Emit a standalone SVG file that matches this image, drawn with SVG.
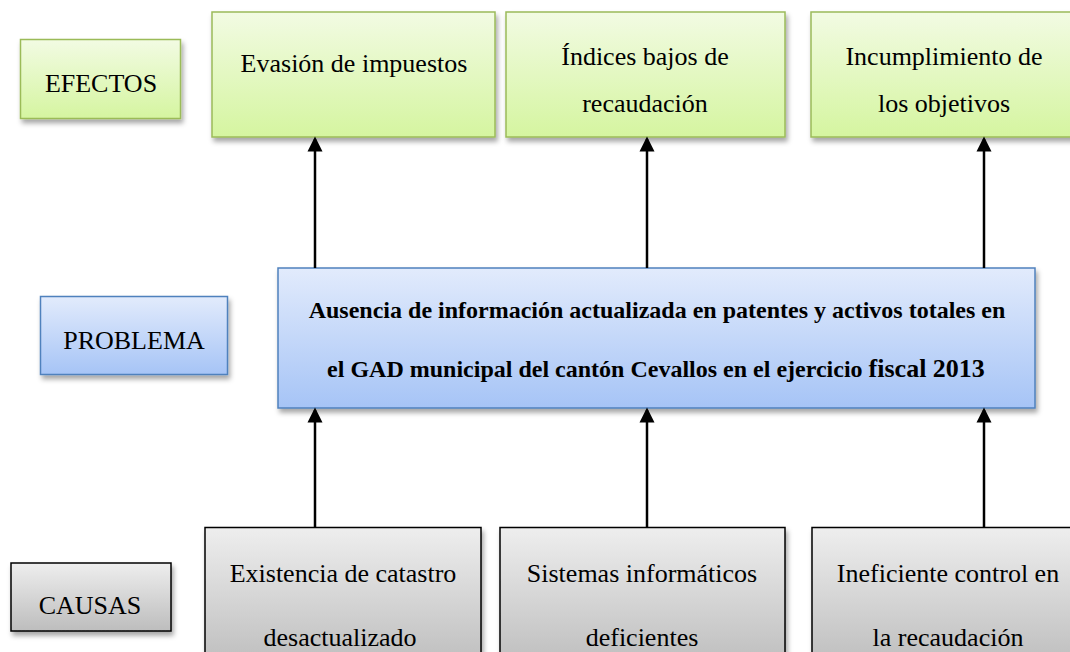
<svg xmlns="http://www.w3.org/2000/svg" width="1070" height="652" viewBox="0 0 1070 652">
<defs>
<linearGradient id="gGreen" x1="0" y1="0" x2="0" y2="1">
<stop offset="0" stop-color="#f2fbe3"/>
<stop offset="1" stop-color="#d5f5a0"/>
</linearGradient>
<linearGradient id="gBlue" x1="0" y1="0" x2="0" y2="1">
<stop offset="0" stop-color="#e2ebfc"/>
<stop offset="1" stop-color="#a6c4f6"/>
</linearGradient>
<linearGradient id="gGray" x1="0" y1="0" x2="0" y2="1">
<stop offset="0" stop-color="#eeeeee"/>
<stop offset="1" stop-color="#bdbdbd"/>
</linearGradient>
<filter id="sh" x="-10%" y="-10%" width="130%" height="140%">
<feDropShadow dx="2" dy="4" stdDeviation="2.5" flood-color="#000" flood-opacity="0.35"/>
</filter>
<marker id="ah" markerUnits="userSpaceOnUse" markerWidth="16" markerHeight="16" refX="13" refY="8" orient="auto" viewBox="0 0 16 16">
<path d="M0.5,0.5 L15.5,8 L0.5,15.5 Z" fill="#000"/>
</marker>
</defs>
<style>
.green{fill:url(#gGreen);stroke:#9bbb59;stroke-width:1.5;filter:url(#sh)}
.blue{fill:url(#gBlue);stroke:#4f81bd;stroke-width:1.5;filter:url(#sh)}
.gray{fill:url(#gGray);stroke:#000;stroke-width:1.5;filter:url(#sh)}
text{font-family:"Liberation Serif","Times New Roman",serif;font-size:26px;fill:#000;text-anchor:middle}
.b{font-weight:bold;font-size:24px}
.conn line{stroke:#000;stroke-width:2.5}
</style>

<g id="efectos-label">
<rect class="green" x="20.5" y="39.5" width="160" height="79"/>
<text x="101" y="92">EFECTOS</text>
</g>
<g id="efecto1">
<rect class="green" x="212" y="12" width="283" height="125"/>
<text x="354" y="72">Evasión de impuestos</text>
</g>
<g id="efecto2">
<rect class="green" x="506" y="12" width="279" height="125"/>
<text x="645" y="65">Índices bajos de</text>
<text x="645" y="112">recaudación</text>
</g>
<g id="efecto3">
<rect class="green" x="811" y="12" width="266" height="125"/>
<text x="944" y="65">Incumplimiento de</text>
<text x="944" y="112">los objetivos</text>
</g>

<g id="problema-label">
<rect class="blue" x="40.5" y="296.5" width="187" height="78"/>
<text x="134" y="349">PROBLEMA</text>
</g>
<g id="problema">
<rect class="blue" x="278" y="268" width="757" height="140"/>
<text class="b" x="657" y="318">Ausencia de información actualizada en patentes y activos totales en</text>
<text class="b" x="656" y="377">el GAD municipal del cantón Cevallos en el ejercicio <tspan font-size="26">fiscal 2013</tspan></text>
</g>

<g id="causas-label">
<rect class="gray" x="11" y="563" width="160" height="68"/>
<text x="90" y="614">CAUSAS</text>
</g>
<g id="causa1">
<rect class="gray" x="205" y="527.5" width="276" height="140"/>
<text x="343" y="582">Existencia de catastro</text>
<text x="340" y="646">desactualizado</text>
</g>
<g id="causa2">
<rect class="gray" x="500" y="527.5" width="285" height="140"/>
<text x="642" y="582">Sistemas informáticos</text>
<text x="642" y="646">deficientes</text>
</g>
<g id="causa3">
<rect class="gray" x="812" y="527.5" width="272" height="140"/>
<text x="948" y="582">Ineficiente control en</text>
<text x="948" y="646">la recaudación</text>
</g>

<g id="connectors" class="conn">
<line x1="315" y1="268" x2="315" y2="139" marker-end="url(#ah)"/>
<line x1="647" y1="268" x2="647" y2="139" marker-end="url(#ah)"/>
<line x1="984" y1="268" x2="984" y2="139" marker-end="url(#ah)"/>
<line x1="315" y1="527" x2="315" y2="410" marker-end="url(#ah)"/>
<line x1="647" y1="527" x2="647" y2="410" marker-end="url(#ah)"/>
<line x1="984" y1="527" x2="984" y2="410" marker-end="url(#ah)"/>
</g>
</svg>
